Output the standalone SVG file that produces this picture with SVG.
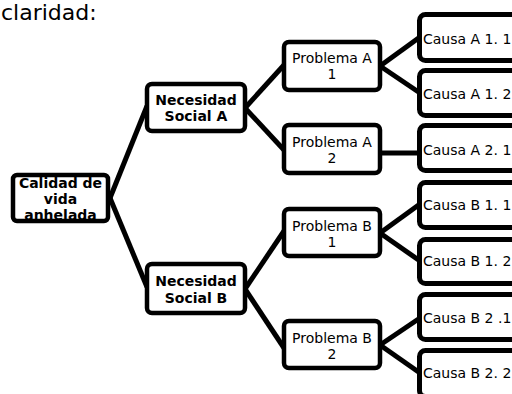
<svg xmlns="http://www.w3.org/2000/svg" width="512" height="394" viewBox="0 0 512 394">
<style>
.box{fill:#fff;stroke:#000;stroke-width:4.5}
.frame{fill:none;stroke:#000;stroke-width:4.5}
.cbox{fill:#fff;stroke:#000;stroke-width:5}
.b{font-family:"DejaVu Sans",Verdana,sans-serif;font-weight:bold;font-size:14px;text-anchor:middle;fill:#000}
.r{font-family:"DejaVu Sans",Verdana,sans-serif;font-size:14px;text-anchor:middle;fill:#000}
.c{font-family:"DejaVu Sans",Verdana,sans-serif;font-size:14px;fill:#000}
#connectors line{stroke:#000;stroke-width:5;stroke-linecap:butt}
</style>
<rect width="512" height="394" fill="#fff"/>
<text x="1" y="20" font-family="DejaVu Sans,Verdana,sans-serif" font-size="22" fill="#000">claridad:</text>
<g id="connectors">
<line x1="110" y1="198" x2="147" y2="106"/>
<line x1="110" y1="198" x2="147" y2="287"/>
<line x1="245" y1="108" x2="284" y2="65"/>
<line x1="245" y1="108" x2="284" y2="150"/>
<line x1="245" y1="289" x2="284" y2="231"/>
<line x1="245" y1="289" x2="284" y2="348"/>
<line x1="380" y1="66" x2="420" y2="37"/>
<line x1="380" y1="66" x2="420" y2="93"/>
<line x1="380" y1="153" x2="420" y2="153"/>
<line x1="380" y1="233" x2="420" y2="204"/>
<line x1="380" y1="233" x2="420" y2="261"/>
<line x1="380" y1="345" x2="420" y2="318"/>
<line x1="380" y1="345" x2="420" y2="373"/>
</g>
<g id="calidad">
<rect x="13" y="175" width="95" height="46" rx="4" fill="#fff"/>
<text class="b" x="60.5" y="188">Calidad de</text>
<text class="b" x="60.5" y="204">vida</text>
<text class="b" x="60.5" y="220">anhelada</text>
<rect class="frame" x="13" y="175" width="95" height="46" rx="4"/>
</g>
<g id="necA">
<rect class="box" x="147" y="84" width="98" height="47" rx="5"/>
<text class="b" x="196" y="105">Necesidad</text>
<text class="b" x="196" y="121">Social A</text>
</g>
<g id="necB">
<rect class="box" x="147" y="264" width="98" height="49" rx="5"/>
<text class="b" x="196" y="286">Necesidad</text>
<text class="b" x="196" y="303">Social B</text>
</g>
<g id="probA1">
<rect class="box" x="284" y="42" width="96" height="48" rx="5"/>
<text class="r" x="332" y="63">Problema A</text>
<text class="r" x="332" y="79">1</text>
</g>
<g id="probA2">
<rect class="box" x="284" y="125" width="96" height="48" rx="5"/>
<text class="r" x="332" y="147">Problema A</text>
<text class="r" x="332" y="163">2</text>
</g>
<g id="probB1">
<rect class="box" x="284" y="209" width="96" height="47" rx="5"/>
<text class="r" x="332" y="231">Problema B</text>
<text class="r" x="332" y="247">1</text>
</g>
<g id="probB2">
<rect class="box" x="284" y="321" width="96" height="47" rx="5"/>
<text class="r" x="332" y="343">Problema B</text>
<text class="r" x="332" y="359">2</text>
</g>
<g id="causaA11">
<rect class="cbox" x="419.5" y="14.5" width="120" height="46" rx="6"/>
<text class="c" x="423" y="44">Causa A 1. 1</text>
</g>
<g id="causaA12">
<rect class="cbox" x="419.5" y="70.5" width="120" height="45" rx="6"/>
<text class="c" x="423" y="99">Causa A 1. 2</text>
</g>
<g id="causaA21">
<rect class="cbox" x="419.5" y="125.5" width="120" height="45" rx="6"/>
<text class="c" x="423" y="155">Causa A 2. 1</text>
</g>
<g id="causaB11">
<rect class="cbox" x="419.5" y="182.5" width="120" height="45" rx="6"/>
<text class="c" x="423" y="210">Causa B 1. 1</text>
</g>
<g id="causaB12">
<rect class="cbox" x="419.5" y="239.5" width="120" height="44" rx="6"/>
<text class="c" x="423" y="266">Causa B 1. 2</text>
</g>
<g id="causaB21">
<rect class="cbox" x="419.5" y="294.5" width="120" height="45" rx="6"/>
<text class="c" x="423" y="323">Causa B 2 .1</text>
</g>
<g id="causaB22">
<rect class="cbox" x="419.5" y="350.5" width="120" height="46" rx="6"/>
<text class="c" x="423" y="378">Causa B 2. 2</text>
</g>
</svg>
